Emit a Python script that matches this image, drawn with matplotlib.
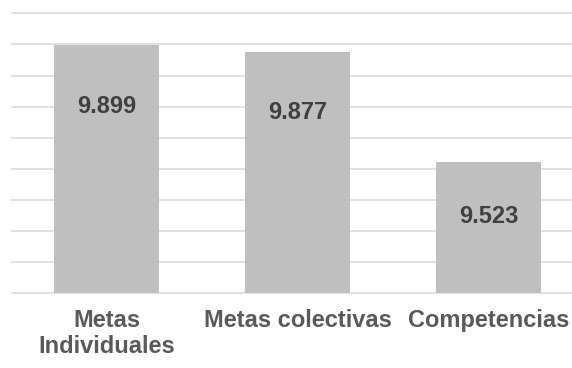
import numpy as np
import matplotlib.pyplot as plt

# Puntajes promedio por componente de la evaluación
categorias = ["Metas\nIndividuales", "Metas colectivas", "Competencias"]
puntajes = [9.899, 9.877, 9.523]
etiquetas = ["9.899", "9.877", "9.523"]

Y_MIN = 9.1
Y_MAX = 10.0
PASO = 0.1

GRIS_BARRA = "#BFBFBF"
GRIS_GRILLA = "#D9D9D9"
GRIS_TEXTO = "#595959"
GRIS_VALOR = "#404040"

plt.rcParams["font.family"] = ["Liberation Sans", "DejaVu Sans"]

fig = plt.figure(figsize=(5.72, 3.68), dpi=100)
ax = fig.add_axes([11 / 572, 0.1946, 573 / 572, 0.9723 - 0.1946])

x = np.arange(len(categorias))
alturas = np.array(puntajes) - Y_MIN
ax.bar(x, alturas, bottom=Y_MIN, width=0.55, color=GRIS_BARRA, zorder=2)

# Etiquetas de valor dentro de cada barra, algo por debajo del extremo
for xi, valor, alto, texto in zip(x, puntajes, alturas, etiquetas):
    bajada = 0.145 + 0.055 * alto
    ax.text(xi, valor - bajada, texto, ha="center", va="center_baseline",
            fontsize=17, fontweight="bold", color=GRIS_VALOR, zorder=3)

ax.set_xlim(-0.5, 2.5)
ax.set_ylim(Y_MIN - 0.01, Y_MAX + 0.01)
ax.set_yticks(np.arange(Y_MIN, Y_MAX + PASO / 2, PASO))
ax.yaxis.grid(True, color=GRIS_GRILLA, linewidth=1.1, zorder=1)
ax.set_axisbelow(True)

ax.set_xticks(x)
ax.set_xticklabels(categorias, fontsize=17, fontweight="bold", color=GRIS_TEXTO)
ax.tick_params(axis="x", length=0, pad=9)
ax.tick_params(axis="y", length=0, labelleft=False)
for spine in ax.spines.values():
    spine.set_visible(False)

fig.savefig("out.png", dpi=100)
